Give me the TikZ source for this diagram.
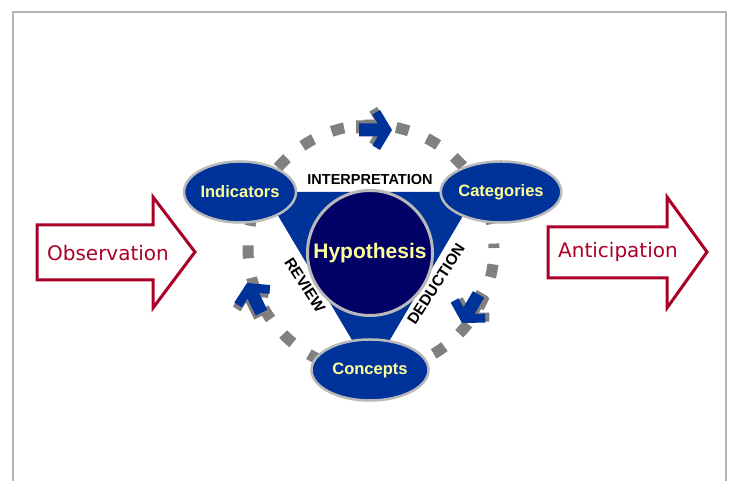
\documentclass[tikz,border=0pt]{standalone}
\usepackage{fontspec}
\setmainfont{Liberation Sans}
\newfontfamily\verdana{DejaVu Sans}
\usetikzlibrary{shapes.geometric}
\definecolor{deepblue}{RGB}{0,51,153}
\definecolor{navy}{RGB}{0,0,102}
\definecolor{paleyellow}{RGB}{255,255,153}
\definecolor{rimgray}{RGB}{185,185,185}
\definecolor{dashgray}{RGB}{128,128,128}
\definecolor{wine}{RGB}{170,0,40}
\definecolor{framegray}{RGB}{180,180,180}

\begin{document}
\begin{tikzpicture}[x=1pt,y=1pt,
        stage/.style = {shape=ellipse, draw=rimgray, line width=2.5pt,
          fill=deepblue, text=paleyellow, inner sep=0pt,
          minimum height=61pt,
          font=\fontsize{16.5}{18}\selectfont\bfseries},
        hypo/.style = {shape=circle, draw=rimgray, line width=3pt,
          fill=navy, text=paleyellow, minimum size=125pt,
          font=\fontsize{21}{24}\selectfont\bfseries},
        phase/.style = {inner sep=1pt, font=\fontsize{14.5}{16}\selectfont\bfseries},
        bigarrow/.style = {draw=wine, line width=3pt, fill=white,
          line join=miter},
        flow/.style = {text=wine, font=\verdana\fontsize{20}{22}\selectfont},
        loopdash/.style = {draw=dashgray, line width=11pt,
          dash pattern=on 13pt off 19.7pt, dash phase=8.6pt},
        chev/.pic = {
          \fill[dashgray, shift={(-3,3)}] (0,0) -- (-12,20) -- (-19.6,15.4)
            -- (-14.3,6.5) -- (-33,6.5) -- (-33,-6.5) -- (-14.3,-6.5)
            -- (-19.6,-15.4) -- (-12,-20) -- cycle;
          \fill[deepblue] (0,0) -- (-12,20) -- (-19.6,15.4)
            -- (-14.3,6.5) -- (-33,6.5) -- (-33,-6.5) -- (-14.3,-6.5)
            -- (-19.6,-15.4) -- (-12,-20) -- cycle;}
        ]
  \useasboundingbox (0,0) rectangle (732,481);
  \draw[framegray, line width=2pt] (13,0) -- (13,469) -- (726,469) -- (726,0);

  \draw[loopdash] (371,233) circle (123);
  \pic at (392,351) {chev};
  \pic[rotate=240] at (462,158) {chev};
  \pic[rotate=116] at (247,198) {chev};

  \fill[deepblue] (264,289) -- (477,289) -- (371,109) -- cycle;
  \node[hypo] (hyp) at (370,228) {Hypothesis};

  \node[stage, minimum width=112pt] (ind) at (240,289) {Indicators};
  \node[stage, minimum width=119pt] (cat) at (501,289) {Categories};
  \node[stage, minimum width=117pt] (con) at (370,111) {Concepts};

  \node[phase] (interp) at (370,301) {INTERPRETATION};
  \node[phase, font=\fontsize{15.5}{17}\selectfont\bfseries, rotate=-57] (rev) at (305,196) {REVIEW};
  \node[phase, font=\fontsize{15.5}{17}\selectfont\bfseries, rotate=57] (ded) at (436,197) {DEDUCTION};

  \draw[bigarrow] (37,256) -- (153,256) -- (153,284) -- (195,229)
    -- (153,173) -- (153,201) -- (37,201) -- cycle;
  \node[flow] (obs) at (108,228) {Observation};
  \draw[bigarrow] (548,254) -- (667,254) -- (667,284) -- (707,229)
    -- (667,173) -- (667,203) -- (548,203) -- cycle;
  \node[flow] (ant) at (618,229) {Anticipation};
\end{tikzpicture}
\end{document}
